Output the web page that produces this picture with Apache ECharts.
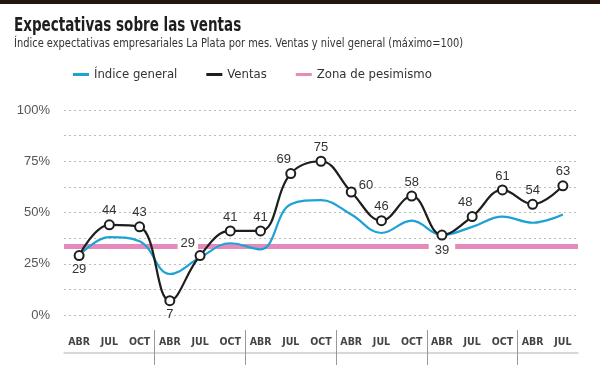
<!DOCTYPE html>
<html>
<head>
<meta charset="utf-8">
<script src="https://cdn.jsdelivr.net/npm/echarts@6/dist/echarts.min.js"></script>
<style>
html,body{margin:0;padding:0;background:#fff;}
#topbar{position:absolute;left:0;top:0;width:600px;height:4px;background:#24150f;z-index:5;}
#chart{width:600px;height:365px;}
</style>
</head>
<body>
<div id="topbar"></div>
<div id="chart"></div>
<script>
const categories = ['ABR','JUL','OCT','ABR','JUL','OCT','ABR','JUL','OCT','ABR','JUL','OCT','ABR','JUL','OCT','ABR','JUL'];
const ventas = [29,44,43,7,29,41,41,69,75,60,46,58,39,48,61,54,63];
const indiceGeneral = [29,38,36,20,28,35,32,54,56,49,40,46,39,43,48,45,49];
const zonaPesimismo = 33.3;
const yTicks = [0,25,50,75,100];
const titleText = 'Expectativas sobre las ventas';
const subtitleText = 'Índice expectativas empresariales La Plata por mes. Ventas y nivel general (máximo=100)';
// label placement per Ventas point
const labelPos = ['bottom','top','top','bottom','left','top','top','top','top','right','top','top','bottom','top','top','top','top'];

const COND = "'DejaVu Sans Condensed',sans-serif";
const SANS = "'Liberation Sans',Arial,sans-serif";

const chart = echarts.init(document.getElementById('chart'), null, {renderer:'canvas'});

const ventasData = ventas.map((v,i) => {
  const lab = {position: labelPos[i]};
  if (i === 4) { lab.offset = [3.5,-12]; lab.backgroundColor = '#fff'; lab.padding = [0,3]; lab.distance = 0; }
  if (i === 12) { lab.backgroundColor = '#fff'; lab.padding = [1,6]; lab.distance = 2; }
  if (i === 7 || i === 13) { lab.offset = [-7,0]; }
  if (i === 9) { lab.offset = [0,-7]; }
  return {value: v, label: lab};
});

// boundaries axis: one category per band edge
const edges = categories.map((c,i) => String(i)).concat([String(categories.length)]);

chart.setOption({
  animation: false,
  graphic: [
    {type: 'text', x: 14, y: 17, scaleX: 0.79, silent: true,
     style: {text: titleText, font: "bold 19px 'DejaVu Sans Condensed', sans-serif", fill: '#1e1e1e', verticalAlign: 'top'}},
    {type: 'text', x: 14, y: 37, scaleX: 0.845, silent: true,
     style: {text: subtitleText, font: "13px 'DejaVu Sans Condensed', sans-serif", fill: '#333', verticalAlign: 'top'}}
  ],
  legend: {
    left: 73, top: 68, padding: 0, itemGap: 29, itemWidth: 16, itemHeight: 3,
    textStyle: {fontFamily: COND, fontSize: 13, color: '#333'},
    data: [
      {name: 'Índice general', icon: 'rect', itemStyle: {color: '#1ea2d4'}},
      {name: 'Ventas', icon: 'rect', itemStyle: {color: '#1e1e1e', borderWidth: 0}},
      {name: 'Zona de pesimismo', icon: 'rect', itemStyle: {color: '#e48bbb'}}
    ]
  },
  grid: {left: 64, right: 22, top: 110, bottom: 50},
  xAxis: [
    {
      type: 'category', data: categories, position: 'bottom',
      axisLine: {show: false}, axisTick: {show: false},
      axisLabel: {interval: 0, margin: 22, fontFamily: COND, fontSize: 10.5, fontWeight: 'bold', color: '#444'}
    },
    {
      type: 'category', data: edges, position: 'bottom', offset: 50, boundaryGap: false,
      axisLine: {show: false},
      axisTick: {show: true, inside: true, length: 35, interval: (i) => i > 0 && i < categories.length && i % 3 === 0, lineStyle: {color: '#999', width: 1}},
      axisLabel: {show: false}
    },
    {
      type: 'category', data: categories, position: 'bottom', offset: 38,
      axisLine: {show: true, lineStyle: {color: '#ccc', width: 1.5}},
      axisTick: {show: false}, axisLabel: {show: false}
    }
  ],
  yAxis: {
    type: 'value', min: 0, max: 100, interval: 12.5,
    axisLine: {show: false}, axisTick: {show: false},
    axisLabel: {
      margin: 14, fontFamily: SANS, fontSize: 13, color: '#555',
      formatter: (v) => yTicks.indexOf(v) >= 0 ? v + '%' : ''
    },
    splitLine: {show: true, lineStyle: {type: [2,3], color: '#bbb', width: 1}}
  },
  series: [
    {
      name: 'Zona de pesimismo', type: 'line', data: categories.map(() => '-'),
      z: 1, symbol: 'none', silent: true,
      itemStyle: {color: '#e48bbb'},
      markLine: {
        z: 1, silent: true, symbol: 'none', label: {show: false},
        lineStyle: {color: '#e48bbb', width: 5, type: 'solid'},
        emphasis: {disabled: true},
        data: [{yAxis: zonaPesimismo}]
      }
    },
    {
      name: 'Índice general', type: 'line', data: indiceGeneral,
      smooth: 0.4, symbol: 'none', z: 3,
      lineStyle: {color: '#1ea2d4', width: 2.2},
      itemStyle: {color: '#1ea2d4'}
    },
    {
      name: 'Ventas', type: 'line', data: ventasData,
      smooth: 0.4, z: 4,
      symbol: 'circle', symbolSize: 9,
      lineStyle: {color: '#1e1e1e', width: 2.2},
      itemStyle: {color: '#fff', borderColor: '#1e1e1e', borderWidth: 2},
      label: {show: true, fontFamily: SANS, fontSize: 13, color: '#333', distance: 2}
    }
  ]
});
</script>
</body>
</html>
